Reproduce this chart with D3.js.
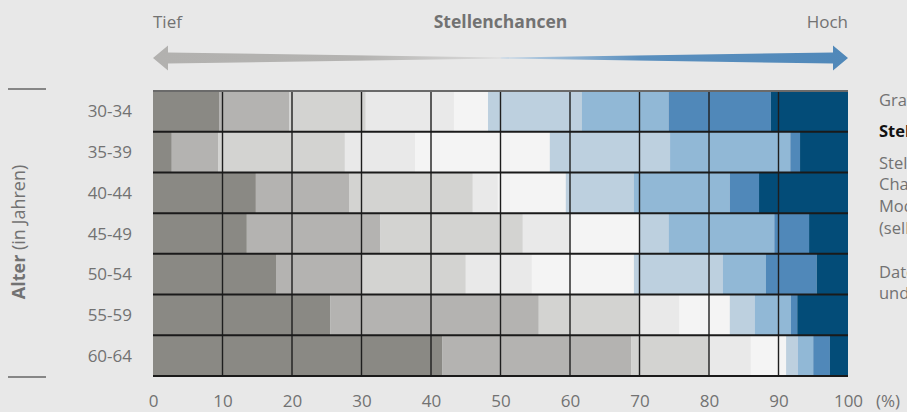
<!DOCTYPE html>
<html>
<head>
<meta charset="utf-8">
<script src="https://cdn.jsdelivr.net/npm/d3@7"></script>
<style>
    body { margin: 0; background: #e8e8e8; }
    svg { display: block; font-family: "Open Sans", sans-serif; }
    .lbl { fill: #727272; font-size: 17px; }
</style>
</head>
<body>
<script>
// Age groups (rows) and tick labels
var ageGroups = ["30-34", "35-39", "40-44", "45-49", "50-54", "55-59", "60-64"];
var ticks = [0, 10, 20, 30, 40, 50, 60, 70, 80, 90, 100];

// Share (%) of each Stellenchancen level per age group, from tief to hoch
var level1 = [9.5, 2.7, 14.8, 13.5, 17.7, 25.5, 41.6];
var level2 = [10.1, 6.7, 13.4, 19.2, 12.3, 30.0, 27.2];
var level3 = [11.0, 18.2, 17.8, 20.5, 15.0, 14.5, 11.2];
var level4 = [12.7, 10.1, 3.6, 6.9, 9.5, 5.7, 6.0];
var level5 = [4.9, 19.4, 9.8, 9.9, 14.7, 7.3, 5.1];
var level6 = [13.5, 17.3, 9.8, 4.2, 12.8, 3.6, 1.7];
var level7 = [12.5, 17.3, 13.8, 15.2, 6.2, 5.2, 2.2];
var level8 = [14.7, 1.4, 4.2, 5.0, 7.3, 0.9, 2.4];
var level9 = [11.1, 6.9, 12.8, 5.6, 4.5, 7.3, 2.6];

var levels = [level1, level2, level3, level4, level5, level6, level7,
    level8, level9];
var colors = ["#8a8984", "#b4b3b1", "#d3d3d1", "#e9e9e9", "#f4f4f4",
    "#bdd0df", "#91b8d6", "#5088b9", "#034c78"];

var width = 907, height = 412;

var svg = d3.select("body").append("svg")
    .attr("width", width)
    .attr("height", height);

//Scales
var x = d3.scaleLinear().domain([0, 100]).range([153, 848]);
var y = d3.scaleBand().domain(ageGroups).range([91, 376]).padding(0);

//Build table for the stack
var table = ageGroups.map(function(g, i) {
    var row = {age: g};
    levels.forEach(function(l, j) { row["l" + j] = l[i]; });
    return row;
});
var keys = levels.map(function(l, j) { return "l" + j; });
var stacked = d3.stack().keys(keys)(table);

//Draw segments
svg.append("g").selectAll("g")
    .data(stacked)
    .enter().append("g")
    .attr("fill", function(d, i) { return colors[i]; })
    .selectAll("rect")
    .data(function(d) { return d; })
    .enter().append("rect")
    .attr("x", function(d) { return x(d[0]); })
    .attr("y", function(d) { return y(d.data.age); })
    .attr("width", function(d) { return x(d[1]) - x(d[0]); })
    .attr("height", y.bandwidth());

//Vertical grid lines
svg.append("g").selectAll("line")
    .data(ticks.slice(1, -1))
    .enter().append("line")
    .attr("x1", function(d) { return x(d); })
    .attr("x2", function(d) { return x(d); })
    .attr("y1", y.range()[0])
    .attr("y2", y.range()[1])
    .attr("stroke", "#1e1e1e")
    .attr("stroke-width", 1.4);

//Row separators
svg.append("g").selectAll("line")
    .data(ageGroups.slice(1))
    .enter().append("line")
    .attr("x1", x(0))
    .attr("x2", x(100))
    .attr("y1", function(d) { return y(d); })
    .attr("y2", function(d) { return y(d); })
    .attr("stroke", "#1a1a1a")
    .attr("stroke-width", 2);

svg.append("line")
    .attr("x1", x(0)).attr("x2", x(100))
    .attr("y1", y.range()[0]).attr("y2", y.range()[0])
    .attr("stroke", "#6a6a6a").attr("stroke-width", 2);

svg.append("line")
    .attr("x1", x(0)).attr("x2", x(100))
    .attr("y1", y.range()[1]).attr("y2", y.range()[1])
    .attr("stroke", "#1a1a1a").attr("stroke-width", 2);

//Row labels
svg.append("g").selectAll("text")
    .data(ageGroups)
    .enter().append("text")
    .attr("class", "lbl")
    .attr("x", 132)
    .attr("y", function(d) { return y(d) + y.bandwidth() / 2; })
    .attr("dy", "0.36em")
    .attr("text-anchor", "end")
    .text(function(d) { return d; });

//X axis labels
var axis = svg.append("g")
    .attr("transform", "translate(0,391)")
    .call(d3.axisBottom(x).tickValues(ticks).tickSize(0).tickPadding(0));
axis.select(".domain").remove();
axis.selectAll("text")
    .attr("class", "lbl")
    .attr("fill", null)
    .attr("dy", "0.95em")
    .style("font-size", "17px")
    .style("font-family", "'Open Sans', sans-serif");

svg.append("text")
    .attr("class", "lbl")
    .attr("x", 876)
    .attr("y", 407)
    .text("(%)");

//Y title with brackets
svg.append("text")
    .attr("class", "lbl")
    .attr("transform", "translate(25,232) rotate(-90)")
    .attr("text-anchor", "middle")
    .style("font-size", "18px")
    .html("<tspan font-weight='bold'>Alter</tspan> (in Jahren)");

svg.append("line")
    .attr("x1", 8).attr("x2", 46).attr("y1", 89).attr("y2", 89)
    .attr("stroke", "#666").attr("stroke-width", 1.5);
svg.append("line")
    .attr("x1", 8).attr("x2", 46).attr("y1", 377).attr("y2", 377)
    .attr("stroke", "#666").attr("stroke-width", 1.5);

//Top labels
svg.append("text").attr("class", "lbl")
    .attr("x", x(0)).attr("y", 28).text("Tief");
svg.append("text").attr("class", "lbl")
    .attr("x", x(50)).attr("y", 28)
    .attr("text-anchor", "middle")
    .attr("font-weight", "bold")
    .style("font-size", "17.5px")
    .text("Stellenchancen");
svg.append("text").attr("class", "lbl")
    .attr("x", x(100)).attr("y", 28)
    .attr("text-anchor", "end").text("Hoch");

//Arrow gradients
var defs = svg.append("defs");
var gl = defs.append("linearGradient").attr("id", "gLeft")
    .attr("gradientUnits", "userSpaceOnUse")
    .attr("x1", x(0)).attr("x2", x(50)).attr("y1", 0).attr("y2", 0);
gl.append("stop").attr("offset", 0).attr("stop-color", "#b2b1af");
gl.append("stop").attr("offset", 0.6).attr("stop-color", "#b4b3b1");
gl.append("stop").attr("offset", 1).attr("stop-color", "#dcdcdc");
var gr = defs.append("linearGradient").attr("id", "gRight")
    .attr("gradientUnits", "userSpaceOnUse")
    .attr("x1", x(50)).attr("x2", x(100)).attr("y1", 0).attr("y2", 0);
gr.append("stop").attr("offset", 0).attr("stop-color", "#c4d6e6");
gr.append("stop").attr("offset", 0.4).attr("stop-color", "#5a8fbe");
gr.append("stop").attr("offset", 1).attr("stop-color", "#5088b9");

var ay = 58;
var left = [[x(0), ay], [x(0) + 15, ay - 12.5], [x(0) + 15, ay - 5.5],
    [x(50), ay - 0.5], [x(50), ay + 0.5], [x(0) + 15, ay + 5.5],
    [x(0) + 15, ay + 12.5]];
var right = [[x(100), ay], [x(100) - 15, ay - 12.5], [x(100) - 15, ay - 5.5],
    [x(50), ay - 0.5], [x(50), ay + 0.5], [x(100) - 15, ay + 5.5],
    [x(100) - 15, ay + 12.5]];
svg.append("path")
    .attr("d", "M" + left.join("L") + "Z")
    .attr("fill", "url(#gLeft)");
svg.append("path")
    .attr("d", "M" + right.join("L") + "Z")
    .attr("fill", "url(#gRight)");

//Side notes (cut off by the page edge, as in the original)
var notes = [
    {t: "Grafik 4", y: 106, w: "normal", c: "#727272"},
    {t: "Stellenchancen", y: 137, w: "bold", c: "#111"},
    {t: "Stellenchancen nach", y: 169, w: "normal", c: "#727272"},
    {t: "Chancen-Index im", y: 190, w: "normal", c: "#727272"},
    {t: "Modell, 9 Stufen", y: 212, w: "normal", c: "#727272"},
    {t: "(selbst berechnet)", y: 234, w: "normal", c: "#727272"},
    {t: "Daten: Stellenportale", y: 278, w: "normal", c: "#727272"},
    {t: "und Inserate", y: 299, w: "normal", c: "#727272"}
];
svg.append("g").selectAll("text")
    .data(notes)
    .enter().append("text")
    .attr("x", 879)
    .attr("y", function(d) { return d.y; })
    .attr("font-weight", function(d) { return d.w; })
    .attr("fill", function(d) { return d.c; })
    .style("font-size", "16.5px")
    .text(function(d) { return d.t; });
</script>
</body>
</html>
